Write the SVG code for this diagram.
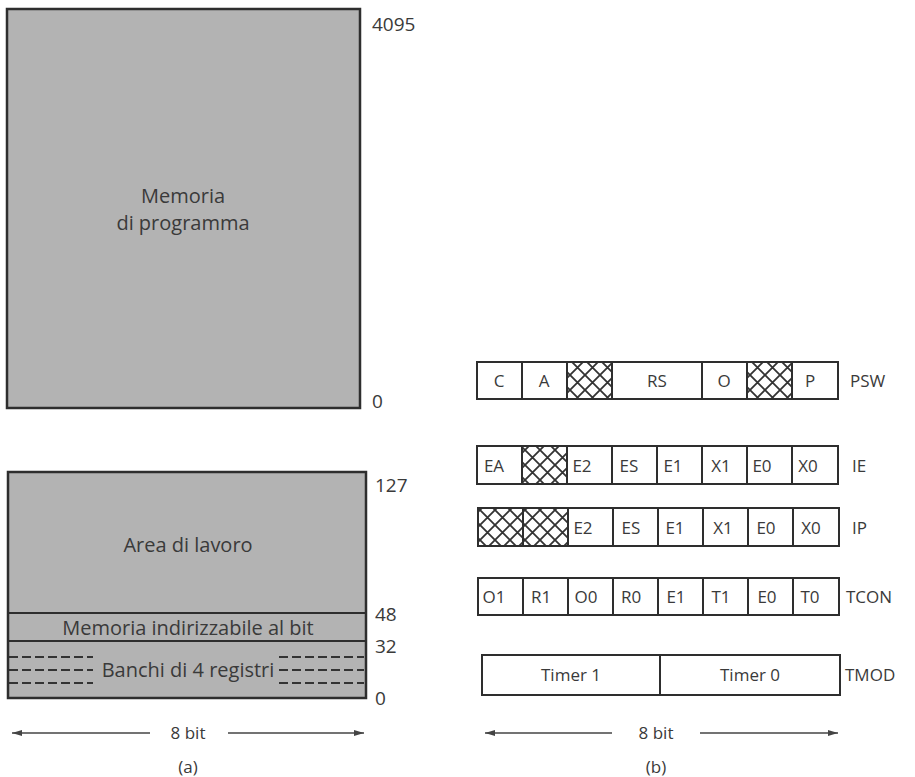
<svg xmlns="http://www.w3.org/2000/svg" width="915" height="777" viewBox="0 0 915 777">
<style>
text{font-family:"Open Sans","Noto Sans",sans-serif;fill:#3a3a3a}
.mem{fill:#b3b3b3;stroke:#2e2e2e;stroke-width:2.5}
.lbl{font-size:20px;text-anchor:middle}
.num{font-size:19px}
.cell{fill:#fff;stroke:#2e2e2e;stroke-width:2}
.hat{fill:url(#hatch);stroke:#2e2e2e;stroke-width:2}
.ct{font-size:17px;text-anchor:middle}
.reg{font-size:17px}
.dash{stroke:#333;stroke-width:2;stroke-dasharray:9 4}
.arr{stroke:#444;stroke-width:1.5;fill:none}
</style>
<defs>
<pattern id="hatch" patternUnits="userSpaceOnUse" width="15" height="15">
<rect width="15" height="15" fill="#fff"/>
<path d="M0 0L15 15M15 0L0 15" stroke="#333" stroke-width="1.8"/>
</pattern>
<marker id="ah" viewBox="0 0 10 6" refX="10" refY="3" markerWidth="10" markerHeight="6" orient="auto" markerUnits="userSpaceOnUse">
<path d="M0 0L10 3L0 6z" fill="#444"/>
</marker>
</defs>

<g id="program-memory">
<rect class="mem" x="7" y="9" width="353" height="399"/>
<text class="lbl" x="183" y="203">Memoria</text>
<text class="lbl" x="183" y="230">di programma</text>
<text class="num" x="372" y="31">4095</text>
<text class="num" x="372" y="408">0</text>
</g>

<g id="data-memory">
<rect class="mem" x="8" y="472" width="358" height="226"/>
<line x1="8" y1="613" x2="366" y2="613" stroke="#2e2e2e" stroke-width="2"/>
<line x1="8" y1="641" x2="366" y2="641" stroke="#2e2e2e" stroke-width="2"/>
<text class="lbl" x="188" y="552">Area di lavoro</text>
<text class="lbl" x="188" y="635">Memoria indirizzabile al bit</text>
<text class="lbl" x="188" y="677">Banchi di 4 registri</text>
<g class="dash">
<line x1="9" y1="657" x2="93" y2="657"/>
<line x1="9" y1="670" x2="93" y2="670"/>
<line x1="9" y1="683" x2="93" y2="683"/>
<line x1="279" y1="657" x2="364" y2="657"/>
<line x1="279" y1="670" x2="364" y2="670"/>
<line x1="279" y1="683" x2="364" y2="683"/>
</g>
<text class="num" x="375" y="492">127</text>
<text class="num" x="375" y="621">48</text>
<text class="num" x="375" y="653">32</text>
<text class="num" x="375" y="705">0</text>
</g>

<g id="psw">
<rect class="cell" x="477" y="362" width="45" height="37"/>
<rect class="cell" x="522" y="362" width="45" height="37"/>
<rect class="hat" x="567" y="362" width="45" height="37"/>
<rect class="cell" x="612" y="362" width="90" height="37"/>
<rect class="cell" x="702" y="362" width="45" height="37"/>
<rect class="hat" x="747" y="362" width="45" height="37"/>
<rect class="cell" x="792" y="362" width="46" height="37"/>
<text class="ct" x="499" y="387">C</text>
<text class="ct" x="544" y="387">A</text>
<text class="ct" x="657" y="387">RS</text>
<text class="ct" x="724" y="387">O</text>
<text class="ct" x="810" y="387">P</text>
<text class="reg" x="850" y="387">PSW</text>
</g>

<g id="ie">
<rect class="cell" x="477" y="446" width="45" height="38"/>
<rect class="hat" x="522" y="446" width="45" height="38"/>
<rect class="cell" x="567" y="446" width="45" height="38"/>
<rect class="cell" x="612" y="446" width="45" height="38"/>
<rect class="cell" x="657" y="446" width="45" height="38"/>
<rect class="cell" x="702" y="446" width="45" height="38"/>
<rect class="cell" x="747" y="446" width="45" height="38"/>
<rect class="cell" x="792" y="446" width="46" height="38"/>
<text class="ct" x="494" y="472">EA</text>
<text class="ct" x="582" y="472">E2</text>
<text class="ct" x="629" y="472">ES</text>
<text class="ct" x="673" y="472">E1</text>
<text class="ct" x="721" y="472">X1</text>
<text class="ct" x="762" y="472">E0</text>
<text class="ct" x="808" y="472">X0</text>
<text class="reg" x="852" y="472">IE</text>
</g>

<g id="ip">
<rect class="hat" x="478" y="508" width="45" height="38"/>
<rect class="hat" x="523" y="508" width="45" height="38"/>
<rect class="cell" x="568" y="508" width="45" height="38"/>
<rect class="cell" x="613" y="508" width="45" height="38"/>
<rect class="cell" x="658" y="508" width="45" height="38"/>
<rect class="cell" x="703" y="508" width="45" height="38"/>
<rect class="cell" x="748" y="508" width="45" height="38"/>
<rect class="cell" x="793" y="508" width="46" height="38"/>
<text class="ct" x="583" y="534">E2</text>
<text class="ct" x="631" y="534">ES</text>
<text class="ct" x="675" y="534">E1</text>
<text class="ct" x="723" y="534">X1</text>
<text class="ct" x="766" y="534">E0</text>
<text class="ct" x="811" y="534">X0</text>
<text class="reg" x="852" y="534">IP</text>
</g>

<g id="tcon">
<rect class="cell" x="478" y="578" width="45" height="37"/>
<rect class="cell" x="523" y="578" width="45" height="37"/>
<rect class="cell" x="568" y="578" width="45" height="37"/>
<rect class="cell" x="613" y="578" width="45" height="37"/>
<rect class="cell" x="658" y="578" width="45" height="37"/>
<rect class="cell" x="703" y="578" width="45" height="37"/>
<rect class="cell" x="748" y="578" width="45" height="37"/>
<rect class="cell" x="793" y="578" width="46" height="37"/>
<text class="ct" x="494" y="603">O1</text>
<text class="ct" x="541" y="603">R1</text>
<text class="ct" x="586" y="603">O0</text>
<text class="ct" x="631" y="603">R0</text>
<text class="ct" x="676" y="603">E1</text>
<text class="ct" x="721" y="603">T1</text>
<text class="ct" x="767" y="603">E0</text>
<text class="ct" x="810" y="603">T0</text>
<text class="reg" x="846" y="603">TCON</text>
</g>

<g id="tmod">
<rect class="cell" x="482" y="655" width="178" height="40"/>
<rect class="cell" x="660" y="655" width="180" height="40"/>
<text class="ct" x="571" y="681">Timer 1</text>
<text class="ct" x="750" y="681">Timer 0</text>
<text class="reg" x="845" y="681">TMOD</text>
</g>

<g id="connectors">
<line class="arr" x1="150" y1="733" x2="12" y2="733" marker-end="url(#ah)"/>
<line class="arr" x1="228" y1="733" x2="364" y2="733" marker-end="url(#ah)"/>
<line class="arr" x1="612" y1="733" x2="485" y2="733" marker-end="url(#ah)"/>
<line class="arr" x1="700" y1="733" x2="838" y2="733" marker-end="url(#ah)"/>
</g>
<text class="ct" x="188" y="739" font-size="18">8 bit</text>
<text class="ct" x="188" y="773" font-size="16">(a)</text>
<text class="ct" x="656" y="739" font-size="18">8 bit</text>
<text class="ct" x="656" y="773" font-size="16">(b)</text>
</svg>
